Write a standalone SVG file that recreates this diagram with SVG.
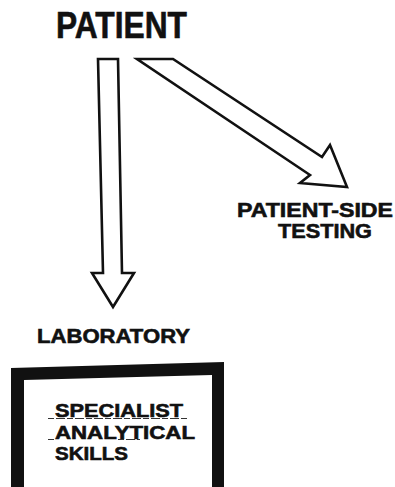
<svg xmlns="http://www.w3.org/2000/svg" width="395" height="487" viewBox="0 0 395 487">
<style>
.t{font-family:"Liberation Sans",Arial,sans-serif;font-weight:bold;fill:#111;stroke:#111;stroke-width:0.6}
.arrow{fill:#fff;stroke:#111;stroke-width:2.6;stroke-linejoin:miter}
.ul{stroke:#333;stroke-width:1;stroke-dasharray:6 2 9 2}
</style>
<rect width="395" height="487" fill="#fff"/>
<g id="patient">
<text class="t" x="56" y="38" font-size="36" textLength="131" lengthAdjust="spacingAndGlyphs">PATIENT</text>
</g>
<g id="connectors">
<polygon class="arrow" points="98,59 118,59 122,273 134,273 113,307 92,273 103,273"/>
<polygon class="arrow" points="137,59 173,59 322,157 330,145 347,187 300,183 310,175"/>
</g>
<g id="patient-side-testing">
<text class="t" x="237" y="217" font-size="20.5" textLength="156" lengthAdjust="spacingAndGlyphs">PATIENT-SIDE</text>
<text class="t" x="278" y="238" font-size="20.5" textLength="94" lengthAdjust="spacingAndGlyphs">TESTING</text>
</g>
<g id="laboratory">
<text class="t" x="37" y="343" font-size="20" textLength="153" lengthAdjust="spacingAndGlyphs">LABORATORY</text>
<path d="M11,368 L224,362 L224,487 L212,487 L212,375 L24,380 L24,487 L11,487 Z" fill="#111"/>
<text class="t" x="55" y="417" font-size="18.5" textLength="128" lengthAdjust="spacingAndGlyphs">SPECIALIST</text>
<text class="t" x="55" y="439" font-size="18.5" textLength="140" lengthAdjust="spacingAndGlyphs">ANALYTICAL</text>
<text class="t" x="55" y="460" font-size="18.5" textLength="73" lengthAdjust="spacingAndGlyphs">SKILLS</text>
<line class="ul" x1="48" y1="418.5" x2="188" y2="418.5"/>
<line class="ul" x1="48" y1="439.5" x2="54" y2="439.5"/>
<line class="ul" x1="118" y1="439.5" x2="140" y2="439.5"/>
</g>
</svg>
